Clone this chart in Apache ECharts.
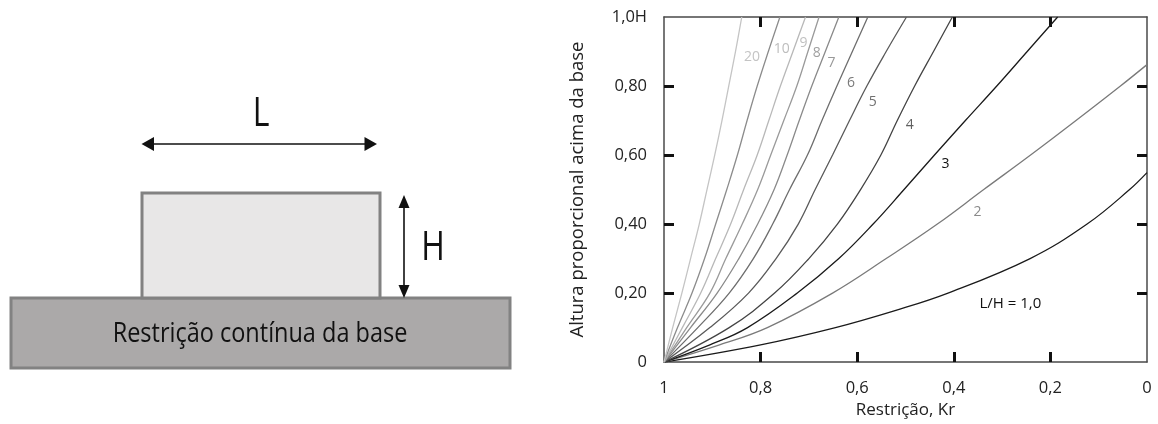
<!DOCTYPE html>
<html>
<head>
<meta charset="utf-8">
<script src="https://cdn.jsdelivr.net/npm/echarts@6/dist/echarts.min.js"></script>
<style>
  html, body { margin: 0; padding: 0; background: #fff; }
  #chart { width: 1158px; height: 424px; }
</style>
</head>
<body>
<div id="chart"></div>
<script>
// Restraint factor Kr versus proportional height h/H, one curve per L/H ratio.
// Each point is [Kr, h/H].
const lh1  = [[1,0],[0.80,0.05],[0.645,0.1],[0.52,0.15],[0.412,0.2],[0.242,0.3],[0.124,0.4],[0.036,0.5],[0,0.549]];
const lh2  = [[1,0],[0.885,0.05],[0.786,0.1],[0.651,0.2],[0.540,0.3],[0.434,0.4],[0.338,0.5],[0.241,0.6],[0.147,0.7],[0.055,0.8],[0,0.862]];
const lh3  = [[1,0],[0.905,0.05],[0.827,0.1],[0.724,0.2],[0.638,0.3],[0.567,0.4],[0.503,0.5],[0.440,0.6],[0.376,0.7],[0.311,0.8],[0.248,0.9],[0.185,1.0]];
const lh4  = [[1,0],[0.865,0.1],[0.771,0.2],[0.700,0.3],[0.641,0.4],[0.593,0.5],[0.551,0.6],[0.517,0.7],[0.481,0.8],[0.442,0.9],[0.403,1.0]];
const lh5  = [[1,0],[0.905,0.1],[0.825,0.2],[0.768,0.3],[0.722,0.4],[0.687,0.5],[0.651,0.6],[0.616,0.7],[0.580,0.8],[0.540,0.9],[0.498,1.0]];
const lh6  = [[1,0],[0.930,0.1],[0.865,0.2],[0.815,0.3],[0.775,0.4],[0.740,0.5],[0.703,0.6],[0.673,0.7],[0.642,0.8],[0.610,0.9],[0.578,1.0]];
const lh7  = [[1,0],[0.945,0.1],[0.890,0.2],[0.845,0.3],[0.806,0.4],[0.772,0.5],[0.745,0.6],[0.720,0.7],[0.694,0.8],[0.666,0.9],[0.638,1.0]];
const lh8  = [[1,0],[0.953,0.1],[0.905,0.2],[0.872,0.3],[0.838,0.4],[0.806,0.5],[0.779,0.6],[0.752,0.7],[0.725,0.8],[0.702,0.9],[0.679,1.0]];
const lh9  = [[1,0],[0.962,0.1],[0.924,0.2],[0.893,0.3],[0.862,0.4],[0.835,0.5],[0.807,0.6],[0.783,0.7],[0.759,0.8],[0.733,0.9],[0.707,1.0]];
const lh10 = [[1,0],[0.972,0.1],[0.942,0.2],[0.916,0.3],[0.893,0.4],[0.870,0.5],[0.848,0.6],[0.828,0.7],[0.807,0.8],[0.784,0.9],[0.760,1.0]];
const lh20 = [[1,0],[0.982,0.1],[0.963,0.2],[0.945,0.3],[0.927,0.4],[0.911,0.5],[0.895,0.6],[0.880,0.7],[0.866,0.8],[0.852,0.9],[0.839,1.0]];

const curveNames = ['L/H = 1,0', '2', '3', '4', '5', '6', '7', '8', '9', '10', '20'];
const curveData  = [lh1, lh2, lh3, lh4, lh5, lh6, lh7, lh8, lh9, lh10, lh20];

// Where each curve's name is written, in [Kr, h/H]
const labelAnchors = [[0.283,0.168],[0.351,0.436],[0.417,0.573],[0.491,0.687],[0.568,0.754],[0.613,0.808],[0.653,0.867],[0.684,0.897],[0.711,0.925],[0.756,0.907],[0.818,0.883]];

const xTickValues = [0, 0.2, 0.4, 0.6, 0.8, 1];
const yTickValues = [0, 0.2, 0.4, 0.6, 0.8, 1];

const lineColors  = ['#1a1a1a','#7a7a7a','#1a1a1a','#444444','#5a5a5a','#6e6e6e','#8a8a8a','#9a9a9a','#b8b8b8','#8c8c8c','#c4c4c4'];
const labelColors = ['#111111','#8a8a8a','#111111','#606060','#707070','#7a7a7a','#999999','#a0a0a0','#c0c0c0','#bdbdbd','#c4c4c4'];

const FONT = 'Open Sans';

function fmtX(v) {
  if (Math.abs(v - 1) < 1e-9) return '1';
  if (Math.abs(v) < 1e-9) return '0';
  return v.toFixed(1).replace('.', ',');
}
function fmtY(v) {
  if (Math.abs(v - 1) < 1e-9) return '1,0H';
  if (Math.abs(v) < 1e-9) return '0';
  return v.toFixed(2).replace('.', ',');
}

const innerTicks = [0.2, 0.4, 0.6, 0.8];
const frameLine = { show: true, onZero: false, lineStyle: { color: '#4a4a4a', width: 1.5 } };
const tickStyle = { show: true, inside: true, length: 10, customValues: innerTicks, lineStyle: { color: '#111', width: 3 } };

const series = curveData.map((pts, i) => ({
  type: 'line',
  name: curveNames[i],
  data: pts,
  smooth: 0.4,
  showSymbol: false,
  symbol: 'none',
  silent: true,
  z: 3,
  lineStyle: { color: lineColors[i], width: 1.3 },
  markPoint: {
    symbol: 'circle',
    symbolSize: 0,
    silent: true,
    data: [{ coord: labelAnchors[i], name: curveNames[i] }],
    label: {
      show: true,
      position: 'inside',
      formatter: curveNames[i],
      color: labelColors[i],
      fontFamily: FONT,
      fontSize: i === 0 ? 15 : 14
    }
  }
}));

// Sketch of the wall on its base (left panel)
const sketch = [
  { type: 'rect', shape: { x: 11, y: 298, width: 499, height: 70 },
    style: { fill: '#aba9a9', stroke: '#828282', lineWidth: 3 } },
  { type: 'rect', shape: { x: 142, y: 193, width: 238, height: 105 },
    style: { fill: '#e8e7e7', stroke: '#828282', lineWidth: 3 } },
  { type: 'text', x: 260, y: 334, scaleX: 0.87,
    style: { text: 'Restrição contínua da base', fontFamily: FONT, fontSize: 27,
      fill: '#111', align: 'center', verticalAlign: 'middle' } },
  // L dimension arrow
  { type: 'line', shape: { x1: 152, y1: 144, x2: 367, y2: 144 }, style: { stroke: '#111', lineWidth: 1.6 } },
  { type: 'polygon', shape: { points: [[141.5,144],[154,137],[154,151]] }, style: { fill: '#111' } },
  { type: 'polygon', shape: { points: [[377,144],[364.5,137],[364.5,151]] }, style: { fill: '#111' } },
  { type: 'text', x: 261, y: 115, scaleX: 0.8,
    style: { text: 'L', fontFamily: FONT, fontSize: 40, fill: '#111', align: 'center', verticalAlign: 'middle' } },
  // H dimension arrow
  { type: 'line', shape: { x1: 404, y1: 206, x2: 404, y2: 287 }, style: { stroke: '#111', lineWidth: 1.6 } },
  { type: 'polygon', shape: { points: [[404,195],[398.5,208],[409.5,208]] }, style: { fill: '#111' } },
  { type: 'polygon', shape: { points: [[404,298],[398.5,285],[409.5,285]] }, style: { fill: '#111' } },
  { type: 'text', x: 433, y: 249, scaleX: 0.8,
    style: { text: 'H', fontFamily: FONT, fontSize: 40, fill: '#111', align: 'center', verticalAlign: 'middle' } }
];

const chart = echarts.init(document.getElementById('chart'), null, { renderer: 'canvas' });
chart.setOption({
  animation: false,
  backgroundColor: '#ffffff',
  grid: { left: 664, top: 17, right: 11, bottom: 53, containLabel: false },
  xAxis: [
    {
      type: 'value', position: 'bottom', inverse: true, min: 0, max: 1, interval: 0.2,
      name: 'Restrição, Kr', nameLocation: 'middle', nameGap: 37,
      nameTextStyle: { fontFamily: FONT, fontSize: 17, color: '#222' },
      axisLine: frameLine, axisTick: tickStyle, splitLine: { show: false },
      axisLabel: { customValues: xTickValues, formatter: fmtX, margin: 18, fontFamily: FONT, fontSize: 16.5, color: '#222' }
    },
    {
      type: 'value', position: 'top', inverse: true, min: 0, max: 1, interval: 0.2,
      axisLine: frameLine, axisTick: tickStyle, splitLine: { show: false }, axisLabel: { show: false }
    }
  ],
  yAxis: [
    {
      type: 'value', position: 'left', min: 0, max: 1, interval: 0.2,
      name: 'Altura proporcional acima da base', nameLocation: 'middle', nameGap: 77,
      nameTextStyle: { fontFamily: FONT, fontSize: 18.5, color: '#222' },
      axisLine: frameLine, axisTick: tickStyle, splitLine: { show: false },
      axisLabel: { customValues: yTickValues, formatter: fmtY, margin: 17, fontFamily: FONT, fontSize: 16.5, color: '#222' }
    },
    {
      type: 'value', position: 'right', min: 0, max: 1, interval: 0.2,
      axisLine: frameLine, axisTick: tickStyle, splitLine: { show: false }, axisLabel: { show: false }
    }
  ],
  series: series,
  graphic: sketch
});
</script>
</body>
</html>
